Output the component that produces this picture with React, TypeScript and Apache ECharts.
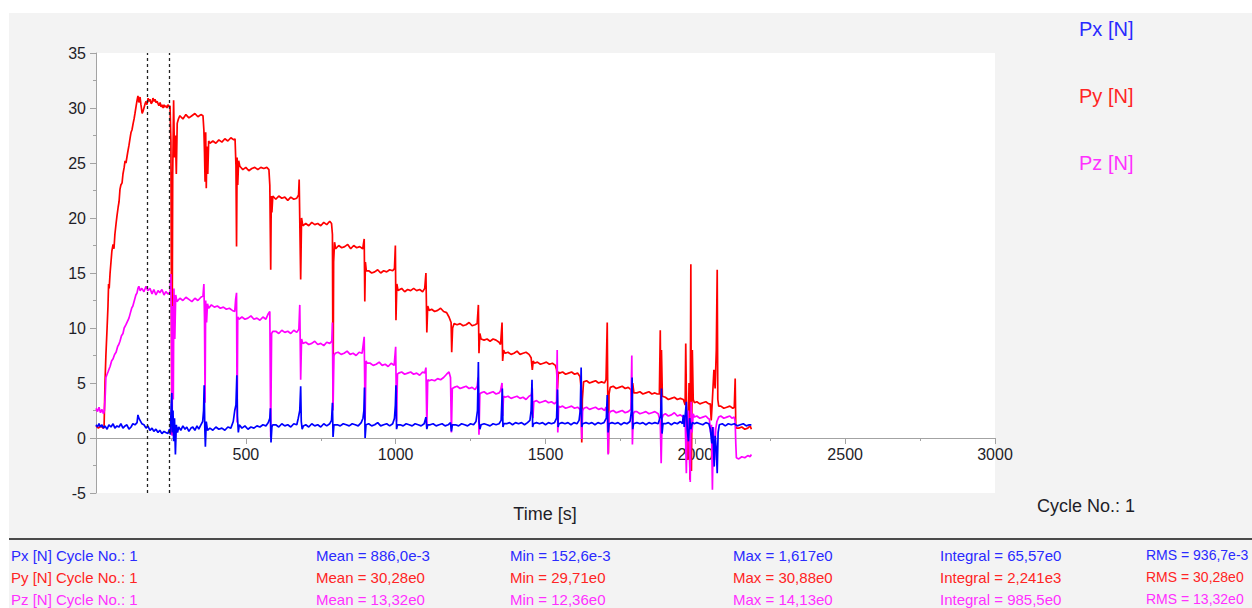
import React, { useEffect, useRef } from "react";
import * as echarts from "echarts";

const FONT = "'Liberation Sans', Arial, Helvetica, sans-serif";

const seriesNames = ["Px [N]", "Py [N]", "Pz [N]"];
const seriesColors = ["#0000ff", "#ff0000", "#ff00ff"];
const textColors = ["#2a2aff", "#ff2424", "#ff30ff"];

const xMin = 0;
const xMax = 3000;
const xInterval = 500;
const yMin = -5;
const yMax = 35;
const yInterval = 5;

const cursorTimes = [170, 243];

const statLabels = ["Mean", "Min", "Max", "Integral", "RMS"];
const pxStats = ["886,0e-3", "152,6e-3", "1,617e0", "65,57e0", "936,7e-3"];
const pyStats = ["30,28e0", "29,71e0", "30,88e0", "2,241e3", "30,28e0"];
const pzStats = ["13,32e0", "12,36e0", "14,13e0", "985,5e0", "13,32e0"];
const cycleNo = "1";

const pyData: number[][] = [
  [0,1.1],[8,0.9],[16,1.1],[24,0.9],[27,1.0],[30,5.0],[33,7.5],[37,10.0],[40,12.0],[42,14.0],[44,13.6],[47,15.0],[53,17.0],[57,17.6],[60,17.2],[63,18.5],[67,19.5],[70,20.2],[74,21.0],[77,21.5],[80,22.6],[83,23.0],[87,23.2],[90,24.0],[94,24.6],[97,25.2],[100,25.0],[106,26.0],[110,26.6],[114,27.3],[117,27.8],[120,28.0],[124,28.6],[127,29.0],[130,29.5],[134,30.2],[137,30.7],[140,31.1],[143,30.5],[147,31.0],[150,30.3],[154,29.5],[157,29.7],[160,30.0],[164,30.4],[167,30.6],[170,30.3],[174,30.9],[177,30.6],[180,30.8],[184,30.4],[187,30.5],[190,30.9],[194,30.6],[197,30.8],[200,30.5],[204,30.6],[207,30.4],[210,30.2],[214,30.5],[217,30.1],[220,30.3],[224,30.0],[227,30.3],[230,30.1],[234,30.2],[237,30.0],[240,30.3],[244,30.1],[247,30.2],
  [250,27.0],[253,0.3],[256,24.0],[259,30.7],[262,25.5],[265,27.5],[268,24.0],[271,28.6],[275,29.0],[280,29.3],[290,29.0],[300,29.4],[310,29.1],[320,29.3],[330,29.5],[340,29.2],[350,29.4],[357,29.3],
  [360,28.0],[362,26.0],[364,23.3],[366,27.8],[368,22.7],[370,26.5],[373,24.0],[376,27.0],[380,26.8],[390,27.0],[400,26.8],[410,27.1],[420,26.9],[430,27.2],[440,27.0],[450,27.3],[460,27.1],[464,27.2],
  [467,24.8],[469,17.4],[471,25.5],[473,23.0],[476,25.2],[480,24.7],[490,24.4],[500,24.6],[510,24.3],[520,24.5],[530,24.6],[540,24.4],[550,24.6],[560,24.5],[570,24.6],[577,24.4],
  [580,23.0],[583,15.3],[585,22.0],[587,20.5],[590,22.0],[600,21.7],[610,22.0],[620,21.8],[630,21.9],[640,21.6],[650,21.9],[660,21.7],[670,21.8],[676,22.1],
  [678,23.5],[681,18.0],[683,14.4],[686,20.0],[690,19.3],[700,19.5],[710,19.3],[720,19.6],[730,19.4],[740,19.5],[750,19.3],[760,19.6],[770,19.4],[780,19.7],[786,19.5],
  [789,18.5],[791,2.8],[793,16.0],[796,17.8],[800,17.2],[810,17.5],[820,17.3],[830,17.4],[840,17.6],[850,17.2],[860,17.5],[870,17.3],[880,17.4],[890,17.2],
  [895,18.1],[897,12.4],[899,16.0],[902,15.2],[910,15.2],[920,15.0],[930,15.1],[940,15.3],[950,15.0],[960,15.2],[970,15.1],[980,15.3],[990,15.2],[996,15.4],
  [999,17.5],[1001,10.7],[1004,14.0],[1008,13.4],[1020,13.6],[1030,13.3],[1040,13.5],[1050,13.4],[1060,13.6],[1070,13.4],[1080,13.5],[1090,13.3],[1097,13.6],
  [1101,15.0],[1104,9.6],[1107,12.0],[1112,11.6],[1120,11.7],[1130,11.5],[1140,11.6],[1150,11.8],[1160,11.5],[1170,11.4],[1178,11.0],
  [1185,10.5],[1187,7.8],[1190,10.0],[1195,10.4],[1205,10.3],[1215,10.4],[1225,10.2],[1235,10.3],[1245,10.5],[1255,10.2],[1265,10.3],[1272,10.4],
  [1276,12.1],[1278,7.7],[1281,9.5],[1285,9.0],[1295,8.9],[1305,9.0],[1315,8.8],[1325,9.0],[1335,8.9],[1345,8.7],[1350,8.5],
  [1355,10.5],[1357,7.0],[1360,8.0],[1365,7.7],[1375,7.8],[1385,7.6],[1395,7.7],[1405,7.9],[1415,7.6],[1425,7.7],[1435,7.8],[1445,7.6],[1452,7.3],
  [1456,6.2],[1459,7.0],[1463,6.8],[1473,6.9],[1483,6.7],[1493,6.8],[1503,6.9],[1513,6.7],[1523,6.8],[1533,6.6],[1537,6.2],
  [1540,4.5],[1543,6.0],[1547,5.9],[1557,6.0],[1567,5.8],[1577,5.9],[1587,6.0],[1597,5.8],[1607,5.9],[1615,5.6],
  [1619,4.5],[1621,-0.4],[1623,3.5],[1627,5.1],[1637,5.2],[1647,5.0],[1657,5.1],[1667,5.2],[1677,5.0],[1687,5.1],[1697,5.0],[1702,5.3],
  [1706,10.5],[1708,3.0],[1710,-1.4],[1712,4.0],[1716,4.6],[1726,4.7],[1736,4.5],[1746,4.6],[1756,4.7],[1766,4.5],[1776,4.6],[1785,4.4],
  [1789,3.0],[1791,5.0],[1795,4.1],[1805,4.1],[1815,4.2],[1825,4.0],[1835,4.1],[1845,4.2],[1855,4.0],[1865,4.1],[1873,4.0],
  [1880,4.0],[1883,9.8],[1885,2.0],[1887,8.0],[1890,3.8],[1900,3.7],[1910,3.5],[1920,3.6],[1930,3.7],[1940,3.5],[1950,3.6],
  [1960,3.5],[1966,3.0],[1968,8.6],[1971,2.0],[1975,-2.0],[1979,5.0],[1982,-3.8],[1985,15.8],[1987,-3.0],[1990,8.0],[1993,3.5],[1997,3.2],
  [2005,3.3],[2015,3.1],[2025,3.2],[2035,3.3],[2045,3.1],[2050,3.1],
  [2053,1.6],[2056,3.0],[2062,6.2],[2066,4.5],[2070,8.0],[2073,15.3],[2075,3.5],[2078,2.9],[2085,2.9],[2095,2.7],[2105,2.8],[2115,2.9],[2125,2.7],[2130,2.8],
  [2133,5.4],[2135,1.0],[2138,0.9],[2145,0.9],[2155,1.0],[2165,0.8],[2175,0.9],[2183,1.1],[2187,0.8]
];

const pzData: number[][] = [
  [0,2.7],[5,2.4],[10,2.8],[15,2.3],[20,2.6],[25,2.2],[28,2.5],[31,4.0],[33,5.5],[37,5.8],[40,6.0],[44,6.3],[47,6.5],[52,7.0],[57,7.2],[62,7.6],[67,7.8],[72,8.3],[76,8.5],[80,8.8],[85,9.3],[90,9.5],[94,10.0],[100,10.3],[105,10.6],[110,10.9],[115,11.4],[119,11.8],[123,12.0],[128,12.5],[133,13.0],[137,13.2],[140,13.6],[143,13.8],[147,13.4],[153,13.6],[160,13.3],[167,13.8],[173,13.4],[180,13.6],[187,13.1],[193,13.5],[200,13.0],[207,13.4],[213,13.2],[220,13.5],[227,13.0],[233,13.3],[240,13.1],[247,13.2],
  [250,14.9],[252,10.0],[254,0.2],[256,12.0],[258,3.5],[260,13.6],[263,9.0],[266,13.0],[270,12.4],[280,12.7],[290,12.5],[300,12.8],[310,12.6],[320,12.4],[330,12.7],[340,12.5],[350,12.8],[357,12.9],
  [360,14.0],[362,11.0],[364,3.2],[366,12.5],[369,10.5],[372,12.2],[376,11.8],[385,12.1],[395,11.9],[405,12.0],[415,11.8],[425,11.9],[435,11.7],[445,11.8],[455,11.6],[463,11.5],
  [466,12.6],[469,13.2],[471,1.4],[473,11.0],[477,10.8],[487,11.0],[497,10.8],[507,10.9],[517,11.1],[527,10.8],[537,10.9],[547,10.7],[557,11.0],[567,10.8],[575,11.3],
  [580,11.5],[583,0.1],[586,9.5],[590,9.7],[600,9.7],[610,9.5],[620,9.8],[630,9.6],[640,9.7],[650,9.5],[660,9.8],[670,9.6],[677,9.9],
  [680,12.1],[683,5.3],[686,9.0],[690,8.6],[700,8.7],[710,8.5],[720,8.6],[730,8.8],[740,8.5],[750,8.6],[760,8.4],[770,8.7],[780,8.6],[787,8.8],
  [789,10.5],[791,2.5],[794,7.5],[798,7.7],[808,7.8],[818,7.6],[828,7.7],[838,7.9],[848,7.6],[858,7.7],[868,7.5],[878,7.8],[888,7.7],
  [895,9.2],[898,1.6],[901,7.0],[905,6.8],[915,6.8],[925,6.6],[935,6.7],[945,6.9],[955,6.6],[965,6.7],[975,6.5],[985,6.8],[995,6.6],
  [1000,8.3],[1003,1.5],[1006,5.8],[1010,5.9],[1020,6.0],[1030,5.8],[1040,5.9],[1050,6.0],[1060,5.8],[1070,5.9],[1080,5.7],[1090,6.0],[1097,5.9],
  [1101,6.4],[1104,1.0],[1107,5.3],[1112,5.2],[1120,5.3],[1130,5.2],[1140,5.4],[1150,5.3],[1160,5.5],[1170,5.8],[1178,6.0],
  [1183,5.5],[1186,0.5],[1189,4.5],[1195,4.6],[1205,4.7],[1215,4.5],[1225,4.6],[1235,4.7],[1245,4.5],[1255,4.6],[1265,4.4],[1272,4.7],
  [1275,5.5],[1278,0.3],[1281,4.0],[1285,4.1],[1295,4.2],[1305,4.0],[1315,4.1],[1325,4.2],[1335,4.0],[1345,4.1],[1350,4.3],
  [1355,5.0],[1357,2.0],[1360,3.8],[1365,3.7],[1375,3.8],[1385,3.6],[1395,3.7],[1405,3.8],[1415,3.6],[1425,3.7],[1435,3.5],[1445,3.8],[1453,3.9],
  [1456,4.5],[1458,1.8],[1461,3.3],[1470,3.4],[1480,3.2],[1490,3.3],[1500,3.4],[1510,3.2],[1520,3.3],[1530,3.1],[1537,3.3],
  [1539,8.0],[1541,0.5],[1544,2.9],[1548,2.8],[1557,2.9],[1567,2.7],[1577,2.8],[1587,2.9],[1597,2.7],[1607,2.8],[1615,2.6],
  [1619,2.0],[1621,-0.1],[1624,2.5],[1628,2.7],[1637,2.8],[1647,2.6],[1657,2.7],[1667,2.8],[1677,2.6],[1687,2.7],[1697,2.5],[1702,2.8],
  [1706,2.0],[1709,-1.5],[1712,2.2],[1716,2.4],[1726,2.5],[1736,2.3],[1746,2.4],[1756,2.5],[1766,2.3],[1776,2.4],[1785,2.6],
  [1788,7.5],[1790,-0.6],[1793,2.2],[1797,2.4],[1805,2.4],[1815,2.2],[1825,2.3],[1835,2.4],[1845,2.2],[1855,2.3],[1865,2.4],[1876,2.2],
  [1883,1.5],[1886,-2.3],[1889,1.8],[1893,2.1],[1900,2.2],[1910,2.0],[1920,2.1],[1930,2.3],[1940,2.0],[1950,2.1],
  [1960,1.9],[1966,2.0],[1970,-3.2],[1973,1.5],[1977,2.5],[1980,-1.0],[1983,-4.0],[1986,3.3],[1989,0.5],[1993,2.2],[1997,1.9],
  [2005,2.0],[2015,1.8],[2025,1.9],[2035,2.0],[2042,1.8],[2047,1.7],
  [2051,0.5],[2054,1.2],[2057,-4.7],[2060,1.0],[2064,-2.0],[2068,0.8],[2072,1.5],[2078,1.9],[2085,2.0],[2095,1.8],[2105,1.9],[2115,2.0],[2122,1.8],[2130,1.9],
  [2133,1.5],[2135,-0.5],[2137,-1.8],[2145,-1.9],[2155,-1.7],[2165,-1.8],[2175,-1.6],[2183,-1.7],[2187,-1.5]
];

const pxData: number[][] = [
  [0,1.2],[5,1.0],[10,1.3],[15,1.0],[20,1.2],[25,0.9],[30,1.1],[37,0.8],[43,1.2],[50,1.0],[57,1.3],[63,0.9],[70,1.1],[77,1.0],[83,1.3],[90,0.9],[97,1.1],[103,1.2],[110,0.8],[117,1.0],[123,1.3],[130,1.2],[137,1.4],[140,2.1],[143,1.8],[147,1.6],[153,1.3],[160,1.2],[167,0.9],[173,1.1],[180,0.7],[187,0.9],[193,0.6],[200,0.8],[207,0.5],[213,0.7],[220,0.4],[227,0.6],[233,0.5],[240,0.4],[245,0.8],[248,0.3],
  [251,3.0],[253,4.1],[255,0.5],[257,2.5],[259,-0.3],[262,1.8],[265,-1.5],[268,1.2],[272,0.5],[276,1.0],
  [283,0.7],[290,1.1],[297,0.8],[303,1.0],[310,0.6],[317,0.9],[323,1.0],[330,0.7],[337,1.1],[343,0.8],[350,1.2],[356,1.5],
  [359,2.5],[361,4.8],[363,1.0],[365,-0.8],[368,1.5],[372,0.7],[380,0.9],[390,0.7],[400,1.0],[410,0.8],[420,0.9],[430,0.7],[440,1.0],[450,0.9],[458,1.5],[463,2.5],
  [467,3.0],[470,5.7],[472,2.0],[475,0.5],[478,1.2],[487,0.9],[497,1.1],[507,0.8],[517,1.0],[527,0.9],[537,1.1],[547,1.0],[557,1.2],[567,1.1],[575,1.4],
  [580,1.8],[582,2.7],[584,-0.4],[587,1.0],[590,1.2],[600,1.2],[610,1.0],[620,1.3],[630,1.1],[640,1.2],[650,1.0],[660,1.3],[670,1.2],[675,1.8],
  [680,2.5],[683,4.7],[685,1.5],[688,0.8],[692,1.1],[700,1.2],[710,1.0],[720,1.3],[730,1.1],[740,1.2],[750,1.0],[760,1.3],[770,1.1],[780,1.3],[786,1.6],
  [789,3.2],[791,0.1],[794,1.2],[805,1.2],[815,1.1],[825,1.3],[835,1.2],[845,1.1],[855,1.3],[865,1.2],[875,1.1],[885,1.4],[891,1.8],
  [894,2.5],[896,4.6],[898,0.0],[901,1.2],[910,1.3],[920,1.1],[930,1.2],[940,1.4],[950,1.1],[960,1.2],[970,1.3],[980,1.1],[990,1.3],[996,1.8],
  [999,3.0],[1001,4.8],[1003,0.8],[1006,1.2],[1015,1.2],[1025,1.1],[1035,1.3],[1045,1.2],[1055,1.1],[1065,1.3],[1075,1.2],[1085,1.1],[1095,1.3],
  [1101,1.9],[1104,0.8],[1107,1.2],[1115,1.2],[1125,1.3],[1135,1.1],[1145,1.2],[1155,1.3],[1165,1.1],[1175,1.2],[1183,1.4],[1186,0.6],[1189,1.2],
  [1200,1.2],[1210,1.1],[1220,1.3],[1230,1.2],[1240,1.1],[1250,1.3],[1260,1.2],[1268,1.5],[1273,2.5],
  [1276,6.9],[1278,1.5],[1281,0.8],[1285,1.2],[1295,1.3],[1305,1.2],[1315,1.1],[1325,1.3],[1335,1.2],[1345,1.3],[1352,1.6],
  [1356,4.5],[1358,1.0],[1361,1.3],[1370,1.3],[1380,1.4],[1390,1.2],[1400,1.4],[1410,1.3],[1420,1.4],[1430,1.2],[1440,1.4],[1448,1.6],[1452,2.5],
  [1455,5.3],[1457,1.0],[1460,1.3],[1470,1.4],[1480,1.3],[1490,1.4],[1500,1.2],[1510,1.4],[1520,1.3],[1530,1.4],[1537,1.8],
  [1540,4.4],[1542,1.0],[1545,1.3],[1555,1.4],[1565,1.3],[1575,1.4],[1585,1.2],[1595,1.4],[1605,1.3],[1612,1.6],[1616,2.5],
  [1619,6.4],[1621,1.0],[1624,1.3],[1635,1.4],[1645,1.3],[1655,1.4],[1665,1.2],[1675,1.4],[1685,1.3],[1695,1.4],[1703,1.8],
  [1706,3.9],[1709,0.5],[1712,1.3],[1722,1.4],[1732,1.3],[1742,1.4],[1752,1.2],[1762,1.4],[1772,1.3],[1782,1.5],
  [1787,2.5],[1789,5.5],[1791,0.8],[1794,1.3],[1805,1.4],[1815,1.3],[1825,1.4],[1835,1.2],[1845,1.4],[1855,1.3],[1865,1.4],[1876,1.3],
  [1884,2.0],[1887,4.5],[1889,0.4],[1892,1.3],[1900,1.3],[1910,1.4],[1920,1.2],[1930,1.4],[1940,1.3],[1950,1.5],
  [1957,1.3],[1960,2.1],[1963,1.0],[1970,3.3],[1973,0.8],[1977,-0.3],[1981,1.8],[1985,0.8],[1990,1.4],[1997,1.3],
  [2005,1.4],[2015,1.3],[2025,1.2],[2035,1.4],[2045,1.3],
  [2050,0.8],[2055,-0.5],[2058,1.0],[2063,-2.6],[2066,0.2],[2070,-1.0],[2073,-3.2],[2076,0.5],[2080,1.2],
  [2090,1.3],[2100,1.1],[2110,1.3],[2120,1.2],[2130,1.3],[2140,1.1],[2150,1.2],[2160,1.3],[2170,1.1],[2180,1.2],[2187,1.2]
];

function buildOption() {
  const textRows = [
    { name: seriesNames[0], stats: pxStats, color: textColors[0], y: 555 },
    { name: seriesNames[1], stats: pyStats, color: textColors[1], y: 577 },
    { name: seriesNames[2], stats: pzStats, color: textColors[2], y: 599 },
  ];
  const colX = [316, 510, 733, 940, 1146];
  const tableTexts: any[] = [];
  textRows.forEach((r) => {
    tableTexts.push({
      type: "text",
      x: 11,
      y: r.y,
      silent: true,
      style: { text: `${r.name} Cycle No.: ${cycleNo}`, fill: r.color, font: `15px ${FONT}`, verticalAlign: "middle", align: "left" },
    });
    r.stats.forEach((v, i) => {
      const last = i === r.stats.length - 1;
      tableTexts.push({
        type: "text",
        x: colX[i],
        y: r.y,
        silent: true,
        style: {
          text: `${statLabels[i]} = ${v}`,
          fill: r.color,
          font: `${last ? 14 : 15}px ${FONT}`,
          verticalAlign: "middle",
          align: "left",
        },
      });
    });
  });

  const axisColor = "#a3a3a3";
  const labelColor = "#1e1e28";
  const lineW = 1.7;

  return {
    animation: false,
    backgroundColor: "transparent",
    textStyle: { fontFamily: FONT },
    grid: {
      left: 96,
      top: 53,
      width: 899,
      height: 440,
      show: true,
      backgroundColor: "#ffffff",
      borderWidth: 0,
      containLabel: false,
    },
    legend: {
      orient: "vertical",
      left: 1069,
      top: 13,
      icon: "none",
      itemWidth: 0,
      itemHeight: 22,
      itemGap: 46,
      selectedMode: false,
      textStyle: { fontSize: 20, fontFamily: FONT },
      data: seriesNames.map((n, i) => ({ name: n, textStyle: { color: textColors[i] } })),
    },
    xAxis: {
      type: "value",
      min: xMin,
      max: xMax,
      interval: xInterval,
      axisLine: { show: true, onZero: true, lineStyle: { color: axisColor, width: 1 } },
      axisTick: { show: true, length: 6, lineStyle: { color: axisColor } },
      minorTick: { show: true, splitNumber: 2, length: 3, lineStyle: { color: axisColor } },
      splitLine: { show: false },
      axisLabel: {
        showMinLabel: false,
        showMaxLabel: true,
        fontSize: 16,
        color: labelColor,
        margin: -47,
        fontFamily: FONT,
        formatter: (v: number) => String(v),
      },
    },
    yAxis: {
      type: "value",
      min: yMin,
      max: yMax,
      interval: yInterval,
      axisLine: { show: true, onZero: false, lineStyle: { color: axisColor, width: 1 } },
      axisTick: { show: true, length: 6, lineStyle: { color: axisColor } },
      minorTick: { show: true, splitNumber: 2, length: 3, lineStyle: { color: axisColor } },
      splitLine: { show: false },
      axisLabel: { fontSize: 16, color: labelColor, margin: 10, fontFamily: FONT, formatter: (v: number) => String(v) },
    },
    series: [
      {
        name: seriesNames[1],
        type: "line",
        data: pyData,
        symbol: "none",
        showSymbol: false,
        lineStyle: { color: seriesColors[1], width: lineW },
        itemStyle: { color: seriesColors[1] },
        z: 2,
      },
      {
        name: seriesNames[2],
        type: "line",
        data: pzData,
        symbol: "none",
        showSymbol: false,
        lineStyle: { color: seriesColors[2], width: lineW },
        itemStyle: { color: seriesColors[2] },
        z: 3,
      },
      {
        name: seriesNames[0],
        type: "line",
        data: pxData,
        symbol: "none",
        showSymbol: false,
        lineStyle: { color: seriesColors[0], width: lineW },
        itemStyle: { color: seriesColors[0] },
        z: 4,
        markLine: {
          silent: true,
          symbol: ["none", "none"],
          label: { show: false },
          lineStyle: { color: "#222222", type: [3, 3], width: 1.3 },
          data: cursorTimes.map((t) => ({ xAxis: t })),
        },
      },
    ],
    graphic: [
      {
        type: "rect",
        silent: true,
        shape: { x: 9, y: 538, width: 1243, height: 2 },
        style: { fill: "#4a4a4a" },
      },
      {
        type: "text",
        x: 545,
        y: 514,
        silent: true,
        style: { text: "Time [s]", fill: labelColor, font: `18px ${FONT}`, align: "center", verticalAlign: "middle" },
      },
      {
        type: "text",
        x: 1037,
        y: 506,
        silent: true,
        style: { text: `Cycle No.: ${cycleNo}`, fill: labelColor, font: `18px ${FONT}`, align: "left", verticalAlign: "middle" },
      },
      ...tableTexts,
    ],
  };
}

export default function App() {
  const ref = useRef<HTMLDivElement>(null);
  useEffect(() => {
    document.body.style.margin = "0";
    const chart = echarts.init(ref.current as HTMLDivElement, null, { renderer: "svg" });
    chart.setOption(buildOption() as any);
    return () => {
      chart.dispose();
    };
  }, []);
  return (
    <div style={{ position: "relative", width: 1252, height: 608, background: "#ffffff", overflow: "hidden" }}>
      <div style={{ position: "absolute", left: 9, top: 13, right: 0, bottom: 0, background: "#f3f3f3" }} />
      <div ref={ref} style={{ position: "absolute", left: 0, top: 0, width: 1252, height: 608 }} />
    </div>
  );
}
